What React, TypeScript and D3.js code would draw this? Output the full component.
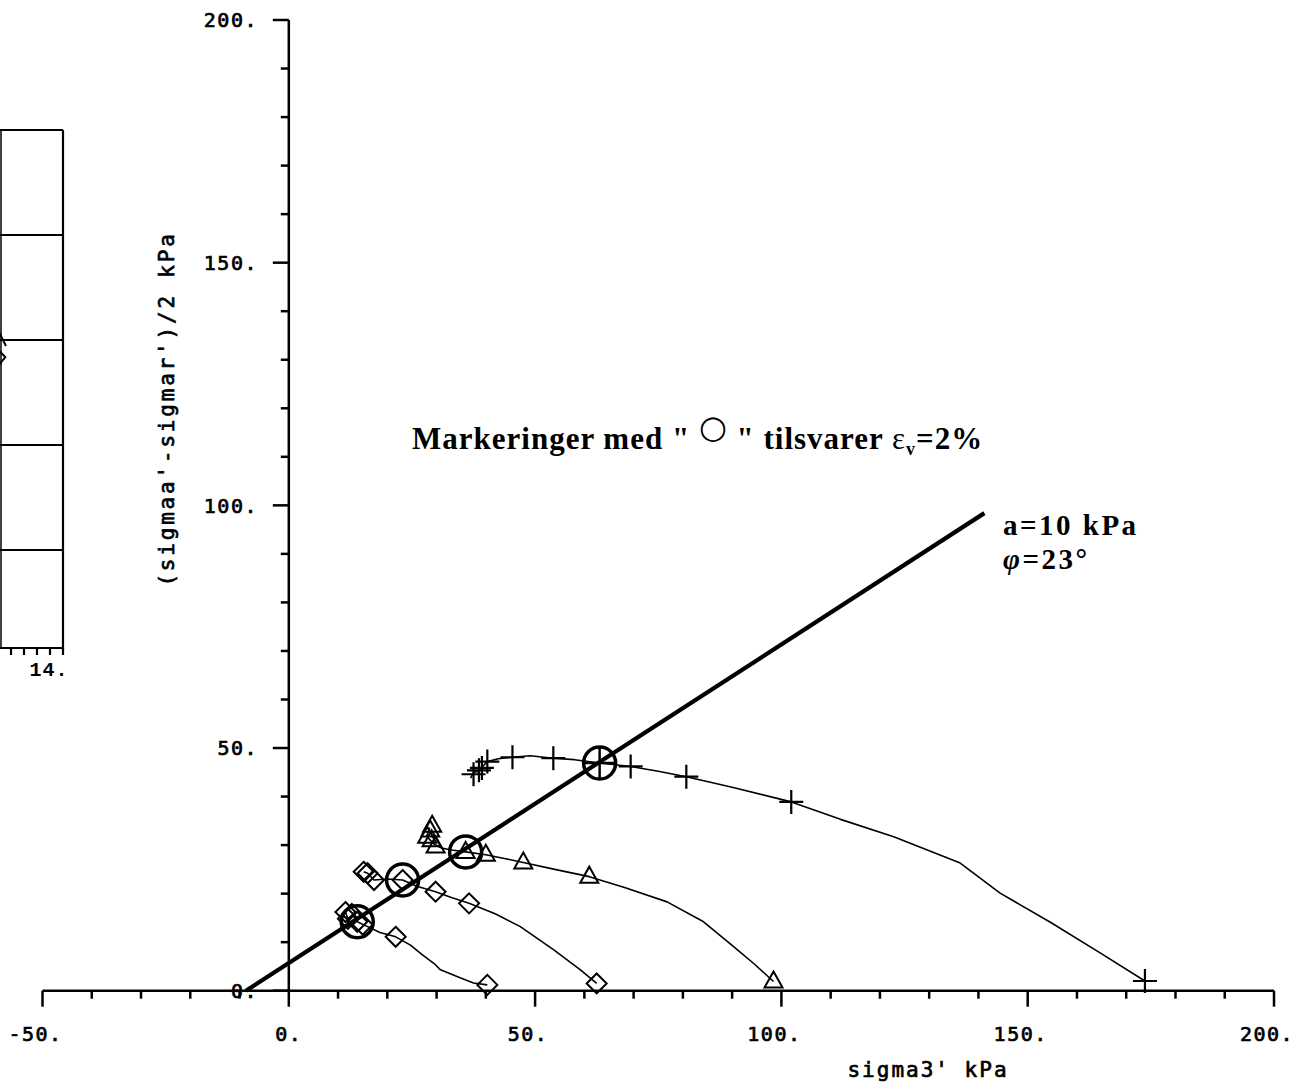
import React, { useEffect, useRef } from 'react';
import * as d3 from 'd3';

// axis ticks
const xMajorTicks = [-50, 0, 50, 100, 150, 200];
const xTickLabels = ['-50.', '0.', '50.', '100.', '150.', '200.'];
const yMajorTicks = [0, 50, 100, 150, 200];
const yTickLabels = ['0.', '50.', '100.', '150.', '200.'];

// failure line a=10 kPa, phi=23
const envelope = [[-8.7, 0], [141.2, 98.4]];

// stress paths
const pathPlus = [[36.9, 43.8], [37.5, 45.0], [38.3, 45.1], [40.3, 47.2], [42.5, 47.8], [45.4, 48.1], [49, 48.4], [53.7, 47.9], [58, 47.6], [63.1, 46.9], [69.4, 46.2], [75, 45.2], [80.7, 44.1], [90, 41.9], [102, 38.9], [112, 35.3], [122.8, 31.7], [136.3, 26.3], [144.4, 20.1], [154.6, 14.1], [164.7, 7.8], [173.8, 2.0]];
const markPlus = [[37.5, 44.6], [38.6, 45.4], [39.2, 45.9], [40.3, 47.2], [45.4, 48.1], [53.7, 47.9], [69.4, 46.2], [80.7, 44.1], [102, 38.9], [173.8, 2.0]];

const pathTri = [[28.6, 33.6], [28.0, 31.8], [29.5, 30.2], [31, 29.4], [33, 29], [35.9, 28.6], [40, 28], [44, 27.2], [47.6, 26.4], [54, 25], [61, 23.5], [68, 21.3], [76.8, 18.3], [84.2, 14.2], [90.3, 9.1], [94.5, 5.5], [98.4, 1.9]];
const markTri = [[29.1, 34.0], [28.7, 33.0], [28.1, 31.7], [29.0, 31.0], [29.8, 29.7], [35.9, 28.6], [40, 28], [47.6, 26.4], [61, 23.5], [98.4, 1.9]];

const pathDia2 = [[15.2, 24.5], [16, 24.2], [17.3, 22.8], [20, 23], [23.1, 22.8], [26, 21.5], [29.8, 20.4], [33, 19.2], [36.6, 18], [42, 15.8], [47, 13.2], [53.8, 8.4], [59.2, 4.3], [62.5, 1.5]];
const markDia2 = [[15.2, 24.5], [16, 24.2], [17.3, 22.8], [23.1, 22.8], [29.8, 20.4], [36.6, 18], [62.5, 1.5]];

const pathDia1 = [[11.5, 16.2], [12, 14.8], [13, 15.6], [13.9, 14.2], [16, 13.2], [18.5, 12], [21.7, 11.1], [24.7, 9.4], [27, 7.5], [29.5, 5.6], [30.8, 4.3], [34.9, 2.6], [37.5, 1.6], [40.3, 1.2]];
const markDia1 = [[11.5, 16.2], [12, 14.8], [12.8, 15.8], [13.9, 14.2], [15, 13.6], [21.7, 11.1], [40.3, 1.2]];

// eps_v = 2 % points
const strainPoints = [[63.1, 46.9], [35.9, 28.6], [23.1, 22.8], [13.9, 14.2]];

// neighbouring panel (cut off at the left edge)
const leftGrid = [1, 2, 3, 4, 5];
const leftXTicks = [13.2, 13.4, 13.6, 13.8, 14];
const leftMarks = [[13.03, 3.0], [13.02, 2.8]];

const App = () => {
  const svgRef = useRef(null);

  useEffect(() => {
    const width = 1294;
    const height = 1088;
    const svg = d3.select(svgRef.current).attr('width', width).attr('height', height);
    svg.selectAll('*').remove();

    const x = d3.scaleLinear().domain([-50, 200]).range([42.5, 1274]);
    const y = d3.scaleLinear().domain([0, 200]).range([990.7, 20]);
    const mono = 'DejaVu Sans Mono, monospace';
    const serif = 'Liberation Serif, Times New Roman, serif';

    // ---- left panel fragment
    const lx = d3.scaleLinear().domain([13, 14]).range([-2, 63]);
    const ly = d3.scaleLinear().domain([0, 5]).range([655, 130]);
    const lp = svg.append('g').attr('stroke', '#000').attr('fill', 'none');
    lp.selectAll('.lg').data(leftGrid).enter().append('line')
      .attr('x1', 0).attr('x2', lx(14)).attr('y1', d => ly(d)).attr('y2', d => ly(d))
      .attr('stroke-width', 2);
    lp.append('line').attr('x1', lx(14)).attr('x2', lx(14)).attr('y1', ly(5)).attr('y2', 650).attr('stroke-width', 2.2);
    lp.append('line').attr('x1', 1).attr('x2', 1).attr('y1', ly(5)).attr('y2', 648).attr('stroke-width', 1.5);
    lp.append('line').attr('x1', 0).attr('x2', lx(14)).attr('y1', 648).attr('y2', 648).attr('stroke-width', 2.2);
    lp.selectAll('.lt').data(leftXTicks).enter().append('line')
      .attr('x1', d => lx(d)).attr('x2', d => lx(d)).attr('y1', 648).attr('y2', 655).attr('stroke-width', 2.2);
    lp.append('path')
      .attr('d', `M${lx(leftMarks[0][0]) + 6},${ly(leftMarks[0][1]) + 6} L${lx(leftMarks[0][0]) - 2},${ly(leftMarks[0][1]) - 10} L${lx(leftMarks[0][0]) - 8},${ly(leftMarks[0][1]) + 4}`)
      .attr('stroke-width', 2);
    lp.append('path')
      .attr('d', `M${lx(leftMarks[1][0]) - 2},${ly(leftMarks[1][1]) - 12} L${lx(leftMarks[1][0]) + 6},${ly(leftMarks[1][1]) - 4} L${lx(leftMarks[1][0]) - 2},${ly(leftMarks[1][1]) + 6}`)
      .attr('stroke-width', 2);
    svg.append('text').attr('x', 49).attr('y', 676).attr('text-anchor', 'middle')
      .attr('font-family', 'Liberation Mono, monospace').attr('font-weight', 'bold')
      .attr('font-size', 20).attr('letter-spacing', 1).text('14.');

    // ---- axes
    const ax = svg.append('g').attr('stroke', '#000').attr('stroke-width', 2.5);
    ax.append('line').attr('x1', x(-50)).attr('x2', x(200)).attr('y1', y(0)).attr('y2', y(0));
    ax.append('line').attr('x1', x(0)).attr('x2', x(0)).attr('y1', y(0)).attr('y2', y(200));
    ax.selectAll('.xm').data(d3.range(-50, 201, 10)).enter().append('line')
      .attr('x1', d => x(d)).attr('x2', d => x(d)).attr('y1', y(0))
      .attr('y2', d => y(0) + (d % 50 === 0 ? 16 : 8));
    ax.selectAll('.ym').data(d3.range(0, 201, 10)).enter().append('line')
      .attr('y1', d => y(d)).attr('y2', d => y(d)).attr('x1', x(0))
      .attr('x2', d => x(0) - (d % 50 === 0 ? 16 : 8));

    const labelStyle = sel => sel.attr('font-family', mono).attr('font-size', 20)
      .attr('letter-spacing', 1.5).attr('stroke', '#000').attr('stroke-width', 0.7);
    svg.selectAll('.xl').data(xMajorTicks).enter().append('text')
      .attr('x', d => x(d) - (d === 0 ? 0 : 7)).attr('y', 1041)
      .attr('text-anchor', 'middle').call(labelStyle).text((d, i) => xTickLabels[i]);
    svg.selectAll('.yl').data(yMajorTicks).enter().append('text')
      .attr('x', 258).attr('y', d => y(d)).attr('dy', '0.36em')
      .attr('text-anchor', 'end').call(labelStyle).text((d, i) => yTickLabels[i]);

    svg.append('text').attr('x', 928).attr('y', 1077).attr('text-anchor', 'middle')
      .call(labelStyle).attr('font-size', 21).attr('letter-spacing', 2)
      .text("sigma3' kPa");
    svg.append('text').attr('transform', 'translate(174,409) rotate(-90)')
      .attr('text-anchor', 'middle').call(labelStyle).attr('font-size', 21)
      .attr('letter-spacing', 2.8).text("(sigmaa'-sigmar')/2 kPa");

    // ---- envelope
    const line = d3.line().x(d => x(d[0])).y(d => y(d[1]));
    svg.append('path').datum(envelope).attr('d', line)
      .attr('fill', 'none').attr('stroke', '#000').attr('stroke-width', 4.2);

    // ---- stress paths
    [pathPlus, pathTri, pathDia2, pathDia1].forEach(p => {
      svg.append('path').datum(p).attr('d', line)
        .attr('fill', 'none').attr('stroke', '#000').attr('stroke-width', 1.6)
        .attr('stroke-linejoin', 'round');
    });

    const mk = svg.append('g').attr('fill', 'none').attr('stroke', '#000').attr('stroke-width', 2);
    mk.selectAll('.p').data(markPlus).enter().append('path')
      .attr('d', d => `M${x(d[0]) - 12},${y(d[1])}h24M${x(d[0])},${y(d[1]) - 12}v24`)
      .attr('stroke-width', 2.2);
    mk.selectAll('.t').data(markTri).enter().append('path')
      .attr('d', d => `M${x(d[0])},${y(d[1]) - 10}L${x(d[0]) + 9},${y(d[1]) + 6}L${x(d[0]) - 9},${y(d[1]) + 6}Z`);
    mk.selectAll('.d').data(markDia2.concat(markDia1)).enter().append('path')
      .attr('d', d => `M${x(d[0])},${y(d[1]) - 10}L${x(d[0]) + 10},${y(d[1])}L${x(d[0])},${y(d[1]) + 10}L${x(d[0]) - 10},${y(d[1])}Z`);

    // eps_v = 2 % circles
    mk.selectAll('.c').data(strainPoints).enter().append('circle')
      .attr('cx', d => x(d[0])).attr('cy', d => y(d[1])).attr('r', 16)
      .attr('stroke-width', 3.5);
    mk.append('path')
      .attr('d', `M${x(strainPoints[0][0]) - 16},${y(strainPoints[0][1])}h32M${x(strainPoints[0][0])},${y(strainPoints[0][1]) - 16}v32`)
      .attr('stroke-width', 2.5);

    // ---- annotations
    const note = svg.append('text').attr('x', 412).attr('y', 449)
      .attr('font-family', serif).attr('font-weight', 'bold').attr('font-size', 31)
      .attr('letter-spacing', 1);
    note.append('tspan').text('Markeringer med "  ');
    note.append('tspan').attr('font-family', 'DejaVu Sans').attr('font-weight', 'normal')
      .attr('font-size', 32).attr('dy', -11).text('○');
    note.append('tspan').attr('dy', 11).text('  " tilsvarer ');
    note.append('tspan').attr('font-weight', 'normal').text('ε');
    note.append('tspan').attr('font-size', 18).attr('dy', 6).text('v');
    note.append('tspan').attr('dy', -6).text('=2%');

    svg.append('text').attr('x', 1003).attr('y', 535)
      .attr('font-family', serif).attr('font-weight', 'bold').attr('font-size', 29)
      .attr('letter-spacing', 2.5)
      .text('a=10 kPa');
    svg.append('text').attr('x', 1003).attr('y', 569)
      .attr('font-family', serif).attr('font-weight', 'bold').attr('font-size', 29)
      .attr('letter-spacing', 2.5).attr('font-style', 'italic')
      .text('φ')
      .append('tspan').attr('font-style', 'normal').text('=23°');
  }, []);

  return (
    <div style={{ position: 'absolute', left: 0, top: 0 }}>
      <svg ref={svgRef} style={{ display: 'block', background: '#fff' }}></svg>
    </div>
  );
};

export default App;
